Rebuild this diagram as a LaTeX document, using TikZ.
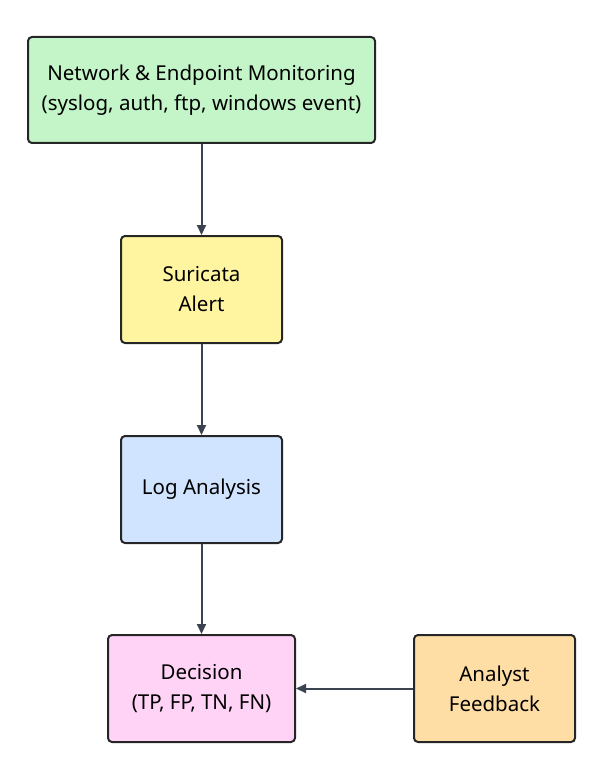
\documentclass[tikz,border=0pt]{standalone}
\usepackage{fontspec}
\setmainfont{Noto Sans}
\usetikzlibrary{arrows.meta}
\definecolor{cgreen}{HTML}{C3F5C8}
\definecolor{cyellow}{HTML}{FFF5A0}
\definecolor{cblue}{HTML}{D0E4FF}
\definecolor{cpink}{HTML}{FFD3F6}
\definecolor{corange}{HTML}{FFDEA6}
\definecolor{cline}{HTML}{3B4350}
\begin{document}
\begin{tikzpicture}[x=1pt,y=-1pt,
  box/.style={draw=black!85, line width=2pt, rounded corners=4pt, align=center,
    font=\fontsize{20.5}{30}\selectfont, inner sep=0pt},
  conn/.style={draw=cline, line width=2pt, -{Triangle[length=10pt,width=9pt]}}]
\useasboundingbox (0,0) rectangle (602,778);
\node[box, fill=cgreen, minimum width=347pt, minimum height=106pt] (mon) at (201.5,90)
  {Network \& Endpoint Monitoring\\(syslog, auth, ftp, windows event)};
\node[box, fill=cyellow, minimum width=161pt, minimum height=107pt] (sur) at (201.5,289.5)
  {Suricata\\Alert};
\node[box, fill=cblue, minimum width=161pt, minimum height=107pt] (log) at (201.5,489.5)
  {Log Analysis};
\node[box, fill=cpink, minimum width=187pt, minimum height=107pt] (dec) at (201.5,688.5)
  {Decision\\(TP, FP, TN, FN)};
\node[box, fill=corange, minimum width=161pt, minimum height=107pt] (ana) at (494.5,688.5)
  {Analyst\\Feedback};
\draw[conn] (mon) -- (sur);
\draw[conn] (sur) -- (log);
\draw[conn] (log) -- (dec);
\draw[conn] (ana) -- (dec);
\end{tikzpicture}
\end{document}
